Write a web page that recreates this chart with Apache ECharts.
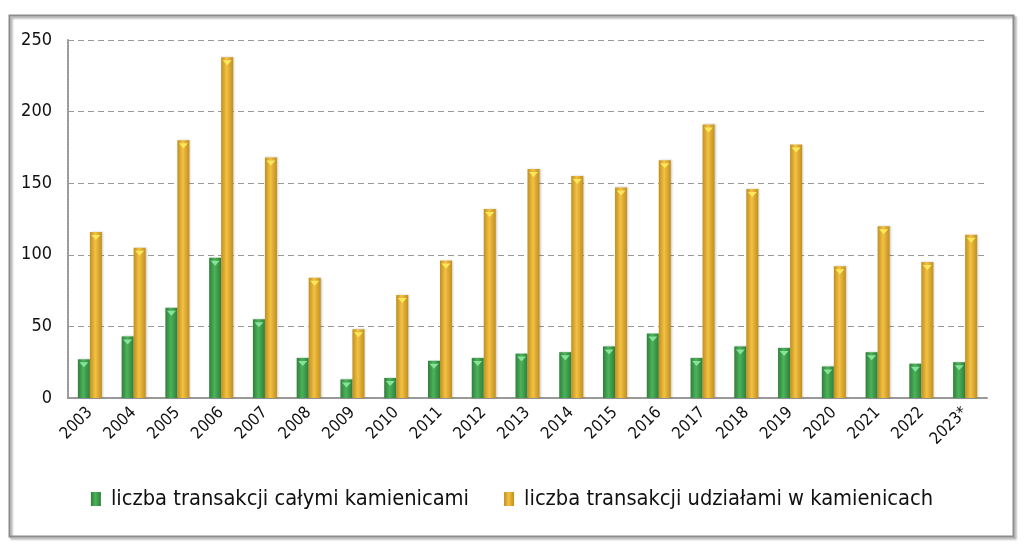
<!DOCTYPE html>
<html>
<head>
<meta charset="utf-8">
<title>Transakcje kamienicami</title>
<script src="https://cdn.jsdelivr.net/npm/echarts@6/dist/echarts.min.js"></script>
<style>
  html, body { margin: 0; padding: 0; background: #fff; }
  #chart { width: 1024px; height: 546px; }
</style>
</head>
<body>
<div id="chart"></div>
<script>
// Data
const years = ['2003', '2004', '2005', '2006', '2007', '2008', '2009', '2010', '2011', '2012',
  '2013', '2014', '2015', '2016', '2017', '2018', '2019', '2020', '2021', '2022', '2023*'];
const wholeBuildings = [27, 43, 63, 98, 55, 28, 13, 14, 26, 28,
  31, 32, 36, 45, 28, 36, 35, 22, 32, 24, 25];
const shares = [116, 105, 180, 238, 168, 84, 48, 72, 96, 132,
  160, 155, 147, 166, 191, 146, 177, 92, 120, 95, 114];
const yTicks = [0, 50, 100, 150, 200, 250];

const fontFamily = "'Liberation Sans Narrow', 'DejaVu Sans Condensed', 'Open Sans', sans-serif";
const legendNames = ['liczba transakcji całymi kamienicami', 'liczba transakcji udziałami w kamienicach'];

const barGradient = (edge, mid) => new echarts.graphic.LinearGradient(0, 0, 1, 0, [
  { offset: 0, color: edge },
  { offset: 0.45, color: mid },
  { offset: 1, color: edge }
]);

// small light chevron at the top of every bar (the 3D-ish cap in the original)
const capSeries = (data, color) => ({
  type: 'pictorialBar',
  data: data,
  symbol: 'triangle',
  symbolRotate: 180,
  symbolSize: [9, 5],
  symbolPosition: 'end',
  symbolOffset: [0, '60%'],
  barWidth: 12,
  barGap: '0%',
  itemStyle: { color: color },
  silent: true,
  z: 3
});

const chart = echarts.init(document.getElementById('chart'));

const option = {
  animation: false,
  backgroundColor: '#fff',
  graphic: [
    {
      type: 'rect',
      left: 7,
      top: 13,
      shape: { width: 1004, height: 521 },
      style: {
        fill: 'none',
        stroke: '#8c8c8c',
        lineWidth: 2,
        shadowColor: 'rgba(0,0,0,0.35)',
        shadowOffsetX: 2,
        shadowOffsetY: 2,
        shadowBlur: 2
      },
      z: -1
    }
  ],
  grid: {
    left: 68,
    right: 37,
    top: 40,
    bottom: 148
  },
  legend: {
    bottom: 31,
    left: 'center',
    itemWidth: 10,
    itemHeight: 14,
    itemGap: 35,
    icon: 'rect',
    textStyle: { fontFamily: fontFamily, fontSize: 21.7, color: '#111', padding: [0, 0, 0, 5] },
    data: legendNames
  },
  xAxis: {
    type: 'category',
    data: years,
    axisLine: { lineStyle: { color: '#999', width: 2 } },
    axisTick: { show: false },
    axisLabel: {
      rotate: 45,
      fontFamily: fontFamily,
      fontSize: 16.5,
      color: '#111',
      margin: 12,
      interval: 0
    }
  },
  yAxis: {
    type: 'value',
    min: yTicks[0],
    max: yTicks[yTicks.length - 1],
    interval: 50,
    axisLine: { show: true, lineStyle: { color: '#999', width: 2, type: [2, 1] } },
    axisTick: { show: false },
    axisLabel: {
      fontFamily: fontFamily,
      fontSize: 18,
      color: '#111',
      margin: 16
    },
    splitLine: { lineStyle: { color: '#999', type: [6, 4], width: 1.2 } }
  },
  series: [
    {
      name: legendNames[0],
      type: 'bar',
      data: wholeBuildings,
      barWidth: 12,
      barGap: '0%',
      itemStyle: {
        color: barGradient('#2f7f3a', '#4cb35a'),
        shadowColor: 'rgba(0,0,0,0.2)',
        shadowBlur: 2,
        shadowOffsetX: 1
      }
    },
    {
      name: legendNames[1],
      type: 'bar',
      data: shares,
      barWidth: 12,
      barGap: '0%',
      itemStyle: {
        color: barGradient('#c08f1e', '#f3c143'),
        shadowColor: 'rgba(0,0,0,0.2)',
        shadowBlur: 2,
        shadowOffsetX: 1
      }
    },
    capSeries(wholeBuildings, '#86e39a'),
    capSeries(shares, '#fbe85a')
  ]
};

chart.setOption(option);
</script>
</body>
</html>
